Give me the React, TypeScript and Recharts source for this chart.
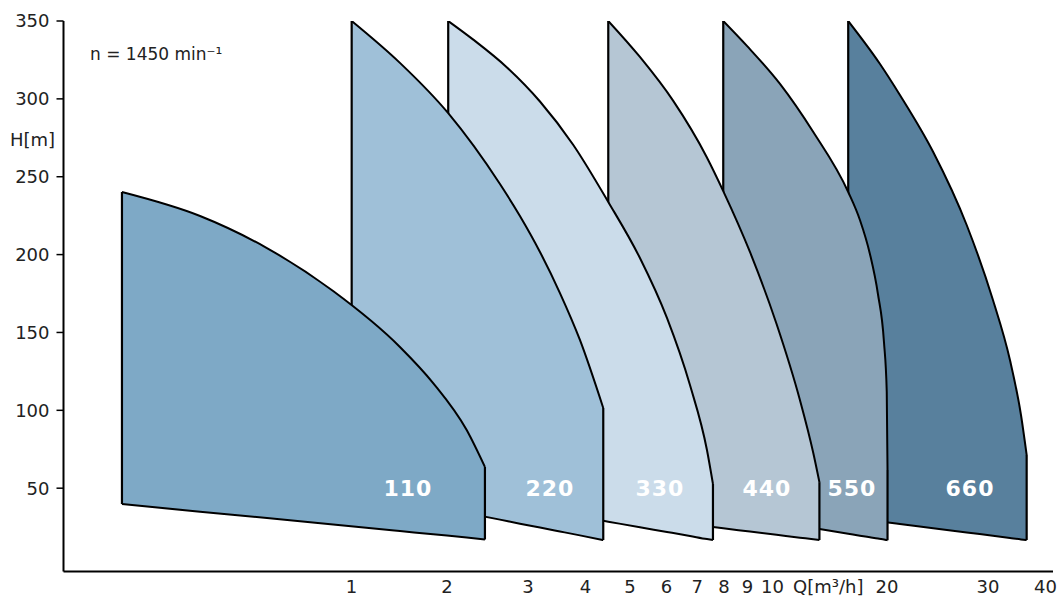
import React from 'react';
import { ComposedChart, Area, XAxis, YAxis, ReferenceDot } from 'recharts';

// ---- axis ticks ----
const X_TICKS = [1, 2, 3, 4, 5, 6, 7, 8, 9, 10, 20, 30, 40];
const Y_TICKS = [50, 100, 150, 200, 250, 300, 350];

// ---- pump 110 ----
const Q_110 = [0.393, 0.581, 0.812, 1.131, 1.58, 1.866, 2.207, 2.418];
const H_TOP_110 = [240.2, 224.8, 204.2, 176.6, 140.7, 117.5, 87.3, 63.6];
const H_LOW_110 = [39.8, 34.9, 30.8, 26.7, 22.5, 20.4, 18.3, 17.1];

// ---- pump 220 ----
const Q_220 = [1.241, 1.58, 2.012, 2.607, 2.881, 3.185, 3.52, 3.89, 4.372];
const H_TOP_220 = [350, 323.1, 290.8, 245.3, 224.8, 201.7, 175.3, 145.2, 101.5];
const H_LOW_220 = [48.6, 42.5, 36.4, 29.8, 27.2, 24.7, 22.2, 19.7, 16.7];

// ---- pump 330 ----
const Q_330 = [2.012, 2.277, 2.7, 3.185, 3.757, 4.483, 5.253, 6.014, 6.748, 7.347, 7.571];
const H_TOP_330 = [350, 338.2, 320.2, 298.3, 270.7, 233.8, 197.8, 159.3, 116.2, 74.5, 52.7];
const H_LOW_330 = [46.6, 43.8, 39.9, 36.2, 32.5, 28.5, 24.9, 21.9, 19.3, 17.3, 16.7];

// ---- pump 440 ----
const Q_440 = [4.483, 5.253, 6.206, 7.336, 7.971, 9.111, 10.41, 11.7, 12.51, 12.9];
const H_TOP_440 = [350, 326.9, 298.7, 262.7, 240.8, 201.7, 155.4, 106.6, 72.6, 53.9];
const H_LOW_440 = [33.2, 30.8, 28.1, 25.6, 24.2, 22.2, 20.1, 18.2, 17.2, 16.7];

// ---- pump 550 ----
const Q_550 = [7.971, 8.975, 10.59, 12.51, 14.9, 15.8, 16.61, 17.29, 17.82, 18.07, 18.14];
const H_TOP_550 = [350, 334.0, 309.6, 278.7, 240.2, 222.2, 200.4, 174.7, 143.9, 111.8, 61.7];
const H_LOW_550 = [34.0, 31.5, 28.0, 24.5, 20.8, 19.5, 18.5, 17.7, 17.0, 16.7, 16.6];

// ---- pump 660 ----
const Q_660 = [14.9, 17.47, 19.3, 22.8, 26.96, 30.75, 33.48, 35.38, 36.4];
const H_TOP_660 = [350, 322.4, 302.5, 265.9, 219.0, 170.8, 132.3, 97.0, 71.3];
const H_LOW_660 = [31.1, 28.6, 27.0, 24.3, 21.6, 19.4, 18.0, 17.1, 16.7];

// ---- series labels ----
const PUMP_NAMES = ['110', '220', '330', '440', '550', '660'];
const LABEL_Q = [1.645, 3.348, 5.806, 9.92, 15.18, 27.41];
const LABEL_H = [50, 50, 50, 50, 50, 50];

// ---- styles ----
const FILLS: Record<string, string> = {
  '110': '#7ea9c6',
  '220': '#9fc0d8',
  '330': '#cbdcea',
  '440': '#b5c6d4',
  '550': '#8aa4b8',
  '660': '#58809d',
};
const FONT = 'DejaVu Sans, Verdana, sans-serif';
const TEXT_COLOR = '#222';
const X_TICK_NUDGE: Record<number, number> = { 1: 43, 10: 4, 20: -20 };

const SHAPES = [
  { name: '110', q: Q_110, top: H_TOP_110, low: H_LOW_110 },
  { name: '220', q: Q_220, top: H_TOP_220, low: H_LOW_220 },
  { name: '330', q: Q_330, top: H_TOP_330, low: H_LOW_330 },
  { name: '440', q: Q_440, top: H_TOP_440, low: H_LOW_440 },
  { name: '550', q: Q_550, top: H_TOP_550, low: H_LOW_550 },
  { name: '660', q: Q_660, top: H_TOP_660, low: H_LOW_660 },
];

type Shape = (typeof SHAPES)[number];

const body = (s: Shape) => s.q.map((q, i) => ({ q, r: [s.low[i], s.top[i]] }));
const leftEdge = (s: Shape) => [
  { q: s.q[0], r: [s.low[0], s.low[0]] },
  { q: s.q[0], r: [s.low[0], s.top[0]] },
];
const rightEdge = (s: Shape) => {
  const n = s.q.length - 1;
  return [
    { q: s.q[n], r: [s.low[n], s.top[n]] },
    { q: s.q[n], r: [s.low[n], s.low[n]] },
  ];
};

const XTick = (props: any) => {
  const { x, y, payload } = props;
  const nudge = X_TICK_NUDGE[payload.value] ?? 0;
  return (
    <text
      x={x + nudge}
      y={y + 21.5}
      textAnchor="middle"
      fontSize={18}
      fontFamily={FONT}
      fill={TEXT_COLOR}
    >
      {payload.value}
    </text>
  );
};

export default function App() {
  const drawOrder = [...SHAPES].reverse();
  return (
    <div style={{ position: 'absolute', left: 0, top: 0, width: 1061, height: 596, background: '#fff' }}>
      <ComposedChart
        width={1061}
        height={596}
        margin={{ top: 21, right: 8, bottom: 0, left: 0 }}
      >
        <XAxis
          dataKey="q"
          type="number"
          scale="log"
          domain={[0.2933, 41.53]}
          allowDataOverflow
          ticks={X_TICKS}
          interval={0}
          tickLine={false}
          tickSize={0}
          tickMargin={0}
          height={24.5}
          axisLine={{ stroke: '#000', strokeWidth: 2 }}
          tick={<XTick />}
        />
        <YAxis
          type="number"
          domain={[-3.5, 350]}
          allowDataOverflow
          ticks={Y_TICKS}
          interval={0}
          width={63.5}
          tickSize={7}
          tickMargin={7}
          tickLine={{ stroke: '#000', strokeWidth: 1.5 }}
          axisLine={{ stroke: '#000', strokeWidth: 2 }}
          tick={{ fill: TEXT_COLOR, fontSize: 18, fontFamily: FONT }}
        />
        {drawOrder.map((s) => [
          <Area
            key={`body-${s.name}`}
            data={body(s)}
            dataKey="r"
            type="monotone"
            fill={FILLS[s.name]}
            fillOpacity={1}
            stroke="#000"
            strokeWidth={2}
            dot={false}
            activeDot={false}
            isAnimationActive={false}
          />,
          <Area
            key={`left-${s.name}`}
            data={leftEdge(s)}
            dataKey="r"
            type="linear"
            fill="none"
            stroke="#000"
            strokeWidth={2.2}
            dot={false}
            activeDot={false}
            isAnimationActive={false}
          />,
          <Area
            key={`right-${s.name}`}
            data={rightEdge(s)}
            dataKey="r"
            type="linear"
            fill="none"
            stroke="#000"
            strokeWidth={2.2}
            dot={false}
            activeDot={false}
            isAnimationActive={false}
          />,
        ])}
        {PUMP_NAMES.map((name, i) => (
          <ReferenceDot
            key={`lbl-${name}`}
            x={LABEL_Q[i]}
            y={LABEL_H[i]}
            r={0}
            fill="none"
            stroke="none"
            label={{
              value: name,
              position: 'center',
              fill: '#fff',
              fontSize: 22,
              fontWeight: 700,
              fontFamily: FONT,
              letterSpacing: 1,
            }}
          />
        ))}
      </ComposedChart>
      <svg
        width={1061}
        height={596}
        style={{ position: 'absolute', left: 0, top: 0, pointerEvents: 'none' }}
      >
        <text x={10} y={146} fontSize={18} fontFamily={FONT} fill={TEXT_COLOR}>
          H[m]
        </text>
        <text x={90} y={60} fontSize={17} fontFamily={FONT} fill={TEXT_COLOR}>
          n = 1450 min⁻¹
        </text>
        <text x={793} y={593} fontSize={18} fontFamily={FONT} fill={TEXT_COLOR}>
          Q[m³/h]
        </text>
      </svg>
    </div>
  );
}
